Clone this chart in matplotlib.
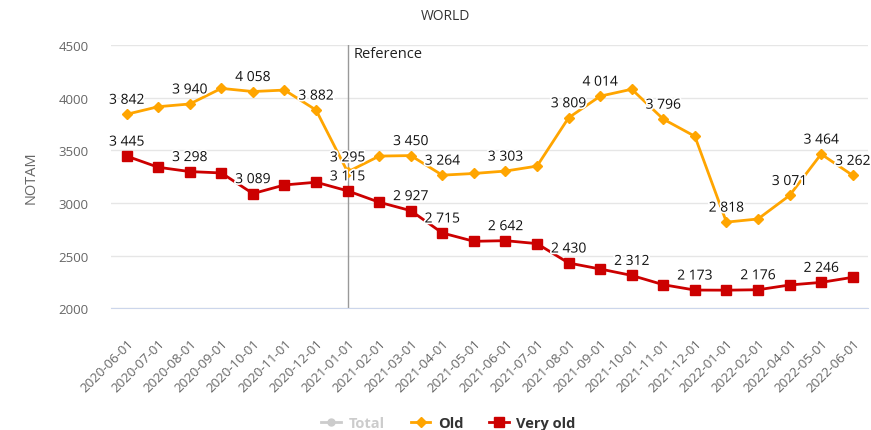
#!/usr/bin/env python3
"""
NOTAM counts for WORLD: old and very old NOTAMs per month.
"""

import matplotlib
matplotlib.use('Agg')
import matplotlib.pyplot as plt
import matplotlib.patheffects as pe
from matplotlib.lines import Line2D

plt.rcParams['font.family'] = ['Open Sans', 'DejaVu Sans']

# Data
months = ['2020-06-01', '2020-07-01', '2020-08-01', '2020-09-01', '2020-10-01',
          '2020-11-01', '2020-12-01', '2021-01-01', '2021-02-01', '2021-03-01',
          '2021-04-01', '2021-05-01', '2021-06-01', '2021-07-01', '2021-08-01',
          '2021-09-01', '2021-10-01', '2021-11-01', '2021-12-01', '2022-01-01',
          '2022-02-01', '2022-04-01', '2022-05-01', '2022-06-01']
old = [3842, 3914, 3940, 4088, 4058, 4072, 3882, 3295, 3445, 3450,
       3264, 3280, 3303, 3350, 3809, 4014, 4080, 3796, 3633, 2818,
       2848, 3071, 3464, 3262]
very_old = [3445, 3339, 3298, 3285, 3089, 3171, 3197, 3115, 3007, 2927,
            2715, 2636, 2642, 2614, 2430, 2373, 2312, 2224, 2173, 2172,
            2176, 2221, 2246, 2294]
# indices of points whose value is printed on the chart
old_labeled = [0, 2, 4, 6, 7, 9, 10, 12, 14, 15, 17, 19, 21, 22, 23]
very_old_labeled = [0, 2, 4, 7, 9, 10, 12, 14, 16, 18, 20, 22]
reference_month = '2021-01-01'

ORANGE = '#FFA500'
RED = '#CC0000'


def fmt(v):
    return f'{v:,}'.replace(',', ' ')


def add_labels(ax, xs, ys, idx):
    for i in idx:
        ax.annotate(fmt(ys[i]), xy=(xs[i], ys[i]), xytext=(0, 14),
                    textcoords='offset pixels', ha='center', va='center',
                    fontsize=10, color='#111111', zorder=6,
                    path_effects=[pe.withStroke(linewidth=2.5, foreground='white')])


def main():
    fig = plt.figure(figsize=(8.71, 4.31), dpi=100)
    ax = fig.add_axes([0.1273, 0.2824, 0.9971 - 0.1273, 0.8933 - 0.2824])

    x = list(range(len(months)))

    ax.plot(x, old, color=ORANGE, linewidth=2, marker='D', markersize=5.5,
            zorder=4, label='Old')
    ax.plot(x, very_old, color=RED, linewidth=2, marker='s', markersize=7.5,
            zorder=3, label='Very old')

    add_labels(ax, x, old, old_labeled)
    add_labels(ax, x, very_old, very_old_labeled)

    # reference line
    ref_x = months.index(reference_month)
    ax.axvline(ref_x, color='#999999', linewidth=1, zorder=2)
    ax.text(ref_x + 0.2, 4420, 'Reference', fontsize=10.5, color='#222222',
            ha='left', va='center')

    ax.set_xlim(-0.5, len(months) - 0.5)
    ax.set_ylim(2000, 4500)
    ax.set_yticks([2000, 2500, 3000, 3500, 4000, 4500])
    ax.set_xticks(x)
    ax.set_xticklabels(months, rotation=45, ha='right', rotation_mode='anchor',
                       fontsize=9.5, color='#666666')
    ax.tick_params(axis='x', length=0, pad=20)
    ax.tick_params(axis='y', length=0, pad=16, labelsize=9.5, labelcolor='#666666')

    ax.grid(axis='y', color='#e6e6e6', linewidth=1)
    ax.set_axisbelow(True)
    for side in ['top', 'right', 'left']:
        ax.spines[side].set_visible(False)
    ax.spines['bottom'].set_color('#ccd6eb')

    ax.set_ylabel('NOTAM', fontsize=10.5, color='#666666', labelpad=14)
    fig.text(0.512, 0.962, 'WORLD', fontsize=10, color='#333333',
             ha='center', va='center')

    handles = [
        Line2D([], [], color='#cccccc', linewidth=2, marker='o', markersize=5),
        Line2D([], [], color=ORANGE, linewidth=2, marker='D', markersize=5),
        Line2D([], [], color=RED, linewidth=2, marker='s', markersize=7),
    ]
    leg = fig.legend(handles, ['Total', 'Old', 'Very old'], loc='center',
                     bbox_to_anchor=(0.515, 0.016), ncol=3, frameon=False,
                     fontsize=10.5, handlelength=1.35, handletextpad=0.5,
                     columnspacing=1.8)
    colors = ['#cccccc', '#333333', '#333333']
    for t, c in zip(leg.get_texts(), colors):
        t.set_color(c)
        t.set_fontweight('bold')

    fig.savefig('out.png', dpi=100)


if __name__ == '__main__':
    main()
